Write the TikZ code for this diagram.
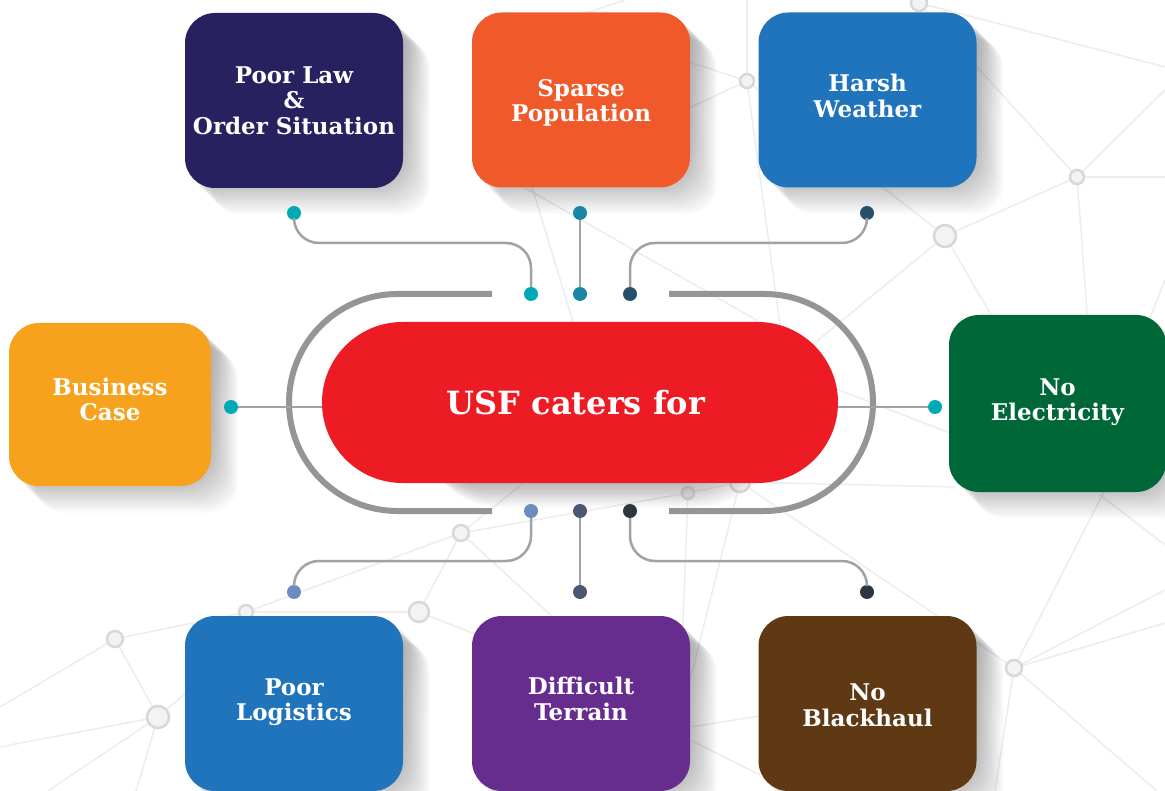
\documentclass[tikz,border=0pt]{standalone}
\usepackage{fontspec}
\setmainfont{DejaVu Serif}
\usetikzlibrary{shapes.misc,calc}
\definecolor{cNavy}{HTML}{27215F}
\definecolor{cOrange}{HTML}{F05A2B}
\definecolor{cBlue}{HTML}{1F74BB}
\definecolor{cYellow}{HTML}{F7A21D}
\definecolor{cGreen}{HTML}{006838}
\definecolor{cPurple}{HTML}{662D8F}
\definecolor{cBrown}{HTML}{5E3914}
\definecolor{cRed}{HTML}{ED1C24}
\definecolor{cLoop}{HTML}{939598}
\definecolor{cConn}{HTML}{A0A2A5}
\definecolor{dTeal}{HTML}{00A9B4}
\definecolor{dSea}{HTML}{1987A3}
\definecolor{dSlate}{HTML}{284F6C}
\definecolor{dSteel}{HTML}{6D8BBF}
\definecolor{dDusk}{HTML}{4A5875}
\definecolor{dCoal}{HTML}{2D3641}
\definecolor{netline}{HTML}{EDEDED}
\definecolor{ringline}{HTML}{D8D8D8}
\definecolor{ringfill}{HTML}{F3F3F3}
\definecolor{shade}{HTML}{3A3F48}
\pgfdeclarelayer{netlayer}
\pgfdeclarelayer{shadelayer}
\pgfsetlayers{netlayer,shadelayer,main}
\tikzset{
  box/.style={rectangle, rounded corners=30pt, minimum width=218pt, minimum height=175pt, inner sep=0pt},
  boxtext/.style={text=white, align=center, inner sep=0pt, font=\fontsize{23}{25.5}\selectfont\bfseries},
  pill/.style={rounded rectangle, minimum width=516pt, minimum height=161pt, fill=cRed, inner sep=0pt},
  pilltext/.style={text=white, inner sep=0pt, font=\fontsize{32}{36}\selectfont\bfseries},
  dot/.style={circle, minimum size=14pt, inner sep=0pt},
  conn/.style={draw=cConn, line width=2.5pt, rounded corners=25pt},
  loopline/.style={draw=cLoop, line width=6pt},
  net/.style={draw=netline, line width=1.5pt},
  ring/.style={circle, draw=ringline, fill=ringfill, line width=2.5pt, inner sep=0pt},
}
\begin{document}
\begin{tikzpicture}[x=1pt,y=-1pt]
\useasboundingbox (0,0) rectangle (1165,791);
\begin{pgfonlayer}{netlayer}
\fill[white] (0,0) rectangle (1165,791);
% background network
\foreach \a/\b in {
  {919,3}/{1165,67}, {919,3}/{1077,177}, {1077,177}/{1165,90}, {1077,177}/{1165,177},
  {1077,177}/{945,236}, {1077,177}/{1095,420}, {747,0}/{747,81}, {747,81}/{945,236},
  {747,81}/{680,59}, {747,81}/{680,112}, {747,81}/{782,340}, {945,236}/{800,355},
  {945,236}/{1000,330}, {1165,280}/{1145,330}, {740,482}/{688,493}, {688,493}/{461,533},
  {740,482}/{1014,668}, {740,482}/{955,487}, {688,493}/{680,700}, {740,482}/{690,680},
  {1014,668}/{1165,590}, {1014,668}/{1165,623}, {1014,668}/{1157,791}, {1014,668}/{995,791},
  {1014,668}/{1110,480}, {1100,495}/{1165,545}, {690,727}/{760,716}, {690,740}/{760,775},
  {461,533}/{246,612}, {461,533}/{419,612}, {461,533}/{540,470}, {461,533}/{600,660},
  {419,612}/{246,612}, {419,612}/{490,640}, {246,612}/{115,639}, {115,639}/{0,707},
  {115,639}/{158,717}, {158,717}/{0,747}, {158,717}/{48,791}, {158,717}/{136,791},
  {158,717}/{230,655}, {530,180}/{580,345}, {520,185}/{800,345}, {580,15}/{625,0},
  {800,375}/{950,433}}
  \draw[net] (\a) -- (\b);
\foreach \p/\r [count=\i] in {{919,3}/8, {747,81}/7, {1077,177}/7, {945,236}/11, {688,493}/6,
  {740,482}/10, {461,533}/8, {419,612}/10, {246,612}/7, {115,639}/8, {158,717}/11, {1014,668}/8}
  \node[ring, minimum size=2*\r pt] (ring\i) at (\p) {};
\end{pgfonlayer}
% boxes
\node[box, fill=cNavy, label={[boxtext]center:Poor Law\\\&\\Order Situation}] (law) at (294,100.5) {};
\node[box, fill=cOrange, label={[boxtext, yshift=-3pt]center:Sparse\\Population}] (spop) at (581,100) {};
\node[box, fill=cBlue, label={[boxtext, yshift=4pt]center:Harsh\\Weather}] (harsh) at (867.5,100) {};
\node[box, fill=cYellow, minimum width=202pt, minimum height=163pt, label={[boxtext, yshift=5pt]center:Business\\Case}] (bcase) at (110,404.5) {};
\node[box, fill=cGreen, minimum width=217pt, minimum height=177pt, label={[boxtext, yshift=1.5pt]center:No\\Electricity}] (elec) at (1057.5,403.5) {};
\node[box, fill=cBlue, label={[boxtext, yshift=1.5pt]center:Poor\\Logistics}] (logi) at (294,703.5) {};
\node[box, fill=cPurple, label={[boxtext, yshift=4.5pt]center:Difficult\\Terrain}] (terr) at (581,703.5) {};
\node[box, fill=cBrown, label={[boxtext, yshift=-2pt]center:No\\Blackhaul}] (bhaul) at (867.5,703.5) {};
% centre pill
\node[pill, label={[pilltext, xshift=-4pt]center:USF caters for}] (usf) at (580,402.5) {};
% shadows
\begin{pgfonlayer}{shadelayer}
\foreach \n in {law,spop,harsh,bcase,elec,logi,terr,bhaul}
  \foreach \k in {1,...,14}
    \fill[shade, opacity=0.016, rounded corners=30pt]
      ($(\n.north west)+(1.9*\k,1.9*\k)$) rectangle ($(\n.south east)+(1.9*\k,1.9*\k)$);
\foreach \k in {1,...,12}
  \fill[shade, opacity=0.024, rounded corners=80pt]
    ($(usf.north west)+(1.6*\k,2*\k)$) rectangle ($(usf.south east)+(1.6*\k,2*\k)$);
\end{pgfonlayer}
% loop
\coordinate (lt) at (492,294); \coordinate (lb) at (492,511);
\coordinate (rt) at (669,294); \coordinate (rb) at (669,511);
\draw[loopline] (lt) -- (397.5,294) arc[start angle=90, end angle=270, radius=108.5pt] -- (lb);
\draw[loopline] (rt) -- (764.5,294) arc[start angle=90, end angle=-90, radius=108.5pt] -- (rb);
% dots
\node[dot, fill=dTeal]  (t1) at (294,213) {};
\node[dot, fill=dSea]   (t2) at (580,213) {};
\node[dot, fill=dSlate] (t3) at (867,213) {};
\node[dot, fill=dTeal]  (u1) at (531,294) {};
\node[dot, fill=dSea]   (u2) at (580,294) {};
\node[dot, fill=dSlate] (u3) at (630,294) {};
\node[dot, fill=dSteel] (v1) at (531,511) {};
\node[dot, fill=dDusk]  (v2) at (580,511) {};
\node[dot, fill=dCoal]  (v3) at (630,511) {};
\node[dot, fill=dSteel] (w1) at (294,592) {};
\node[dot, fill=dDusk]  (w2) at (580,592) {};
\node[dot, fill=dCoal]  (w3) at (867,592) {};
\node[dot, fill=dTeal]  (dl) at (231,407) {};
\node[dot, fill=dTeal]  (dr) at (935,407) {};
% connectors
\draw[conn] (t1) -- ++(0,30) -| (u1);
\draw[conn] (t2) -- (u2);
\draw[conn] (t3) -- ++(0,30) -| (u3);
\draw[conn] (v1) -- ++(0,50) -| (w1);
\draw[conn] (v2) -- (w2);
\draw[conn] (v3) -- ++(0,50) -| (w3);
\draw[conn] (dl) -- (dl -| usf.west);
\draw[conn] (dr) -- (dr -| usf.east);
\end{tikzpicture}
\end{document}
